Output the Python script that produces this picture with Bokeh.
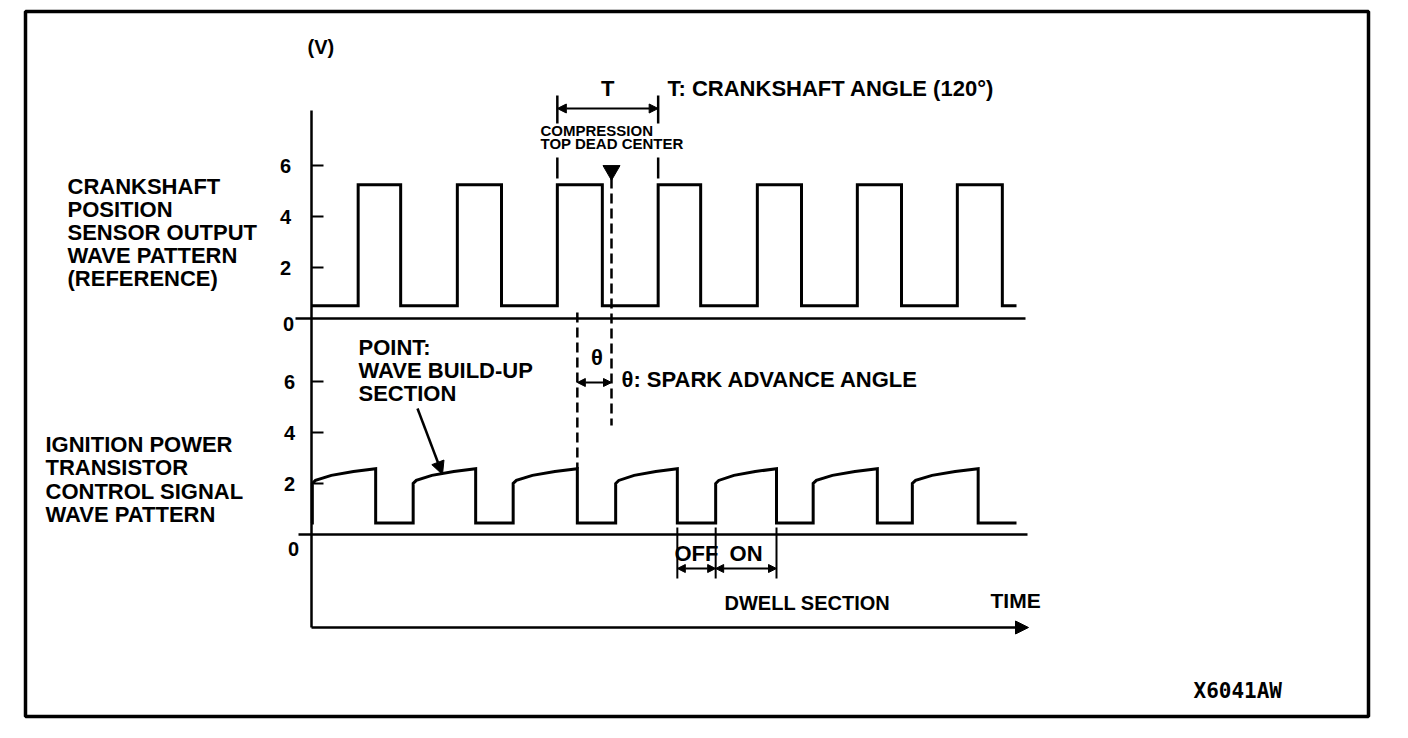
from bokeh.plotting import figure
from bokeh.models import Range1d, Arrow, NormalHead
from bokeh.core.properties import value
from bokeh.embed import file_html
from bokeh.resources import INLINE

# ---------------- data (crank angle in degrees, signal in volts) ----------------
volt_ticks = [2, 4, 6]
volt_tick_labels = ["2", "4", "6"]

crank_low_v = 0.5
crank_high_v = 5.25
crank_rise_deg = [56, 175, 295, 416, 535, 655, 775]
crank_fall_deg = [107, 228, 349, 467, 588, 708, 829]
trace_end_deg = 846

igt_low_v = 0.45
igt_on_deg = [1, 122, 242, 365, 485, 602, 721]
igt_off_deg = [77, 197, 319, 439, 558, 679, 800]
# shape of one "wave build-up" section (fraction of ON time, volts)
ramp_frac = [0.0, 0.05, 0.3, 0.65, 1.0]
ramp_volt = [2.0, 2.12, 2.32, 2.47, 2.58]

tdc_deg = 360

# ---------------- layout (page pixels) ----------------
W, H = 1392, 722
X0 = 311            # page x of 0 deg
PX_PER_DEG = 100 / 120
Y0_TOP = 318        # page y of 0 V, upper trace
Y0_BOT = 534        # page y of 0 V, lower trace
PX_PER_V = 25.5
FONT = value("Liberation Sans")

p = figure(width=W, height=H, x_range=Range1d(0, W), y_range=Range1d(H, 0),
           output_backend="svg", toolbar_location=None, min_border=0,
           x_axis_type=None, y_axis_type=None)
p.outline_line_color = None
p.background_fill_color = "white"
p.border_fill_color = "white"
p.extra_x_ranges = {"deg": Range1d((0 - X0) / PX_PER_DEG, (W - X0) / PX_PER_DEG)}
p.extra_y_ranges = {
    "top": Range1d((Y0_TOP - H) / PX_PER_V, (Y0_TOP - 0) / PX_PER_V),
    "bot": Range1d((Y0_BOT - H) / PX_PER_V, (Y0_BOT - 0) / PX_PER_V),
}

# border
p.quad(left=[25], right=[1368], top=[11], bottom=[716], fill_color=None,
       line_color="black", line_width=3.5)

# ---------------- traces ----------------
cx, cy = [0], [crank_low_v]
for r, f in zip(crank_rise_deg, crank_fall_deg):
    cx += [r, r, f, f]
    cy += [crank_low_v, crank_high_v, crank_high_v, crank_low_v]
cx.append(trace_end_deg)
cy.append(crank_low_v)
p.line(cx, cy, x_range_name="deg", y_range_name="top", line_width=3,
       color="black", line_join="miter")

ix, iy = [0], [igt_low_v]
for on, off in zip(igt_on_deg, igt_off_deg):
    ix.append(on)
    iy.append(igt_low_v)
    for fr, v in zip(ramp_frac, ramp_volt):
        ix.append(on + fr * (off - on))
        iy.append(v)
    ix.append(off)
    iy.append(igt_low_v)
ix.append(trace_end_deg)
iy.append(igt_low_v)
p.line(ix, iy, x_range_name="deg", y_range_name="bot", line_width=3,
       color="black", line_join="miter")

# ---------------- axes ----------------
p.segment(x0=[0], y0=[110], x1=[0], y1=[627], x_range_name="deg",
          line_width=2.5, color="black")
for rng, xl0, xl1 in (("top", 295, 1025), ("bot", 298, 1027)):
    p.segment(x0=[xl0], y0=[0], x1=[xl1], y1=[0], y_range_name=rng,
              line_width=2.5, color="black")
    p.segment(x0=[X0] * 3, y0=volt_ticks, x1=[X0 + 12] * 3, y1=volt_ticks,
              y_range_name=rng, line_width=2, color="black")

TICK_FS = "20px"
p.text(x=[285] * 3, y=volt_ticks, text=volt_tick_labels, y_range_name="top",
       text_font=FONT, text_font_style="bold", text_font_size=TICK_FS,
       text_align="center", text_baseline="middle")
p.text(x=[288], y=[-0.2], text=["0"], y_range_name="top",
       text_font=FONT, text_font_style="bold", text_font_size=TICK_FS,
       text_align="center", text_baseline="middle")
p.text(x=[289] * 3, y=volt_ticks, text=volt_tick_labels, y_range_name="bot",
       text_font=FONT, text_font_style="bold", text_font_size=TICK_FS,
       text_align="center", text_baseline="middle")
p.text(x=[293], y=[-0.55], text=["0"], y_range_name="bot",
       text_font=FONT, text_font_style="bold", text_font_size=TICK_FS,
       text_align="center", text_baseline="middle")

# time arrow
p.add_layout(Arrow(end=NormalHead(size=13, fill_color="black", line_color="black"),
                   x_start=X0, y_start=627, x_end=1028, y_end=627,
                   line_width=2.5, line_color="black"))


def label(x, y, txt, size="22px", align="left", style="bold", xr="default", font=FONT):
    p.text(x=[x], y=[y], text=[txt], x_range_name=xr, text_font=font,
           text_font_style=style, text_font_size=size, text_align=align,
           text_baseline="middle", text_color="black")


label(307, 46.5, "(V)", size="20px")
for i, t in enumerate(["CRANKSHAFT", "POSITION", "SENSOR  OUTPUT", "WAVE PATTERN", "(REFERENCE)"]):
    label(67, 185.5 + i * 23, t)
for i, t in enumerate(["IGNITION POWER", "TRANSISTOR", "CONTROL SIGNAL", "WAVE PATTERN"]):
    label(45, 443.5 + i * 23.5, t)
for i, t in enumerate(["POINT:", "WAVE BUILD-UP", "SECTION"]):
    label(358, 346.5 + i * 23.3, t)

# ---------------- T : crankshaft angle ----------------
t0, t1 = crank_rise_deg[2], crank_rise_deg[3]
p.segment(x0=[t0, t1, t0, t1], y0=[95, 95, 157, 157], x1=[t0, t1, t0, t1],
          y1=[123, 123, 178, 178], x_range_name="deg", line_width=2.5, color="black")
p.add_layout(Arrow(start=NormalHead(size=9, fill_color="black", line_color="black"),
                   end=NormalHead(size=9, fill_color="black", line_color="black"),
                   x_start=t0, y_start=108, x_end=t1, y_end=108, x_range_name="deg",
                   line_width=2, line_color="black"))
label((t0 + t1) / 2, 88, "T", align="center", xr="deg")
label(667, 88, "T: CRANKSHAFT ANGLE (120°)")
label(540, 130, "COMPRESSION", size="15px")
label(540, 143, "TOP DEAD CENTER", size="15px")

# TDC marker and line
p.scatter(x=[tdc_deg], y=[170], marker="inverted_triangle", size=17, color="black",
          x_range_name="deg")
p.segment(x0=[tdc_deg], y0=[178], x1=[tdc_deg], y1=[425], x_range_name="deg",
          line_dash="10 5", line_width=2.5, color="black")

# ---------------- θ : spark advance ----------------
ign = igt_off_deg[2]
p.segment(x0=[ign], y0=[312], x1=[ign], y1=[468], x_range_name="deg",
          line_dash="10 5", line_width=2.5, color="black")
p.add_layout(Arrow(start=NormalHead(size=8, fill_color="black", line_color="black"),
                   end=NormalHead(size=8, fill_color="black", line_color="black"),
                   x_start=ign, y_start=382, x_end=tdc_deg, y_end=382, x_range_name="deg",
                   line_width=2, line_color="black"))
label((ign + tdc_deg) / 2 + 3, 357, "θ", align="center", xr="deg")
label(621, 379, "θ: SPARK ADVANCE ANGLE")

# pointer to wave build-up section
p.add_layout(Arrow(end=NormalHead(size=13, fill_color="black", line_color="black"),
                   x_start=417, y_start=408, x_end=442, y_end=474,
                   line_width=2.5, line_color="black"))

# ---------------- dwell section ----------------
d0, d1, d2 = igt_off_deg[3], igt_on_deg[4], igt_off_deg[4]
p.segment(x0=[d0, d1, d2], y0=[527] * 3, x1=[d0, d1, d2], y1=[578] * 3,
          x_range_name="deg", line_width=2, color="black")
for a, b in ((d0, d1), (d1, d2)):
    p.add_layout(Arrow(start=NormalHead(size=8, fill_color="black", line_color="black"),
                       end=NormalHead(size=8, fill_color="black", line_color="black"),
                       x_start=a, y_start=568, x_end=b, y_end=568, x_range_name="deg",
                       line_width=2, line_color="black"))
label((d0 + d1) / 2, 553, "OFF", align="center", xr="deg")
label((d1 + d2) / 2, 553, "ON", align="center", xr="deg")
label(724, 602, "DWELL SECTION", size="20px")
label(990, 600, "TIME", size="21px")

label(1193, 690, "X6041AW", size="21px", font=value("DejaVu Sans Mono"))

open("out.html", "w").write(file_html(p, INLINE))
